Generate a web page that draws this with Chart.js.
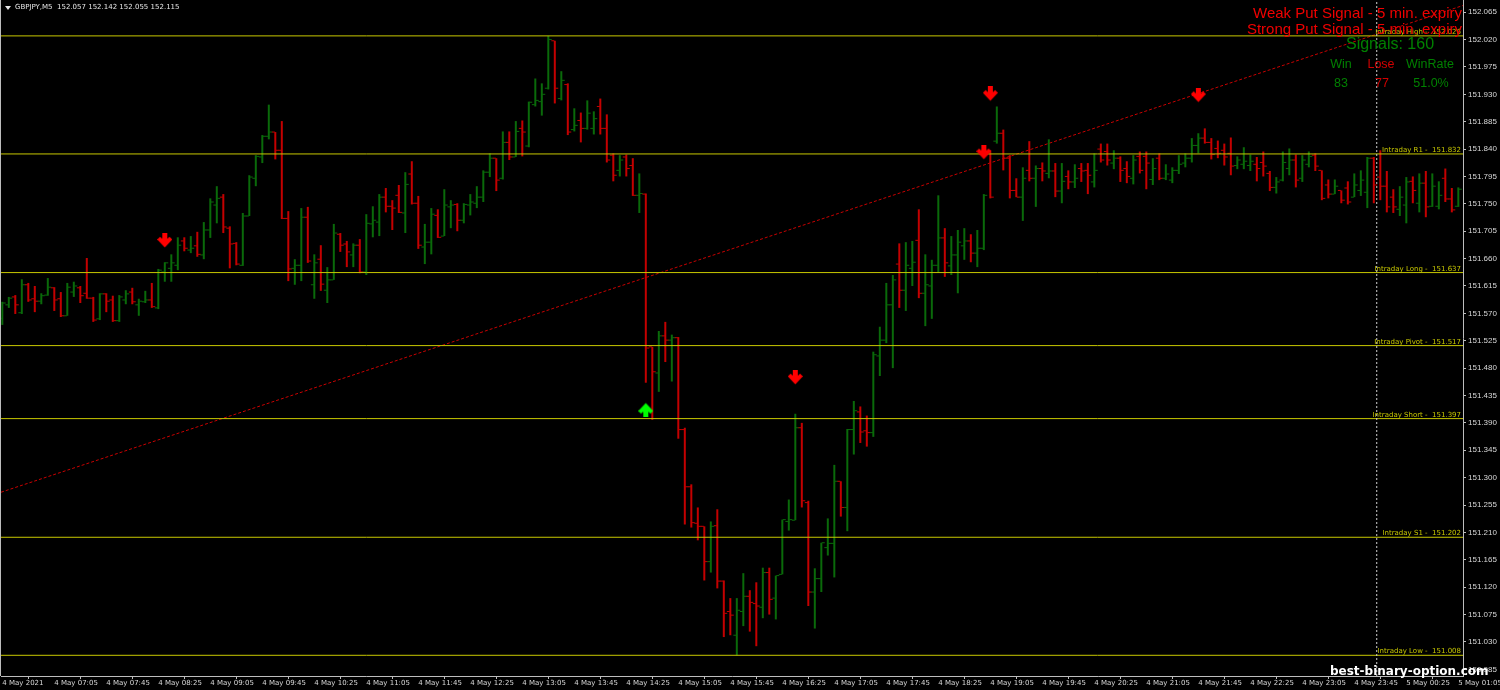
<!DOCTYPE html>
<html>
<head>
<meta charset="utf-8">
<script src="https://cdn.jsdelivr.net/npm/chart.js@4.4.0/dist/chart.umd.min.js"></script>
<style>
  html, body { margin: 0; padding: 0; background: #000; }
  #wrap { position: relative; width: 1500px; height: 690px; overflow: hidden; background: #000; }
  #chart { position: absolute; left: 0; top: 0; }
  .t { position: absolute; white-space: pre; line-height: 1; font-family: "Liberation Sans", Arial, sans-serif; }
  .c { transform: translateX(-50%); }
  #tri { position: absolute; left: 5px; top: 6px; width: 0; height: 0;
         border-left: 3px solid transparent; border-right: 3px solid transparent; border-top: 4px solid #e6e6e6; }
</style>
</head>
<body>
<div id="wrap">
  <canvas id="chart" width="1500" height="690"></canvas>
  <div id="tri"></div>
  <div class="t" style="left:15px; top:4px; font-size:7px; font-family:'DejaVu Sans'; color:#e6e6e6">GBPJPY,M5  152.057 152.142 152.055 152.115</div>

  <div class="t" style="right:38px; top:5px; font-size:15px; color:#f00000">Weak Put Signal - 5 min. expiry</div>
  <div class="t" style="right:38px; top:21px; font-size:15px; color:#f00000">Strong Put Signal - 5 min. expiry</div>
  <div class="t c" style="left:1390px; top:36px; font-size:16px; color:#008000">Signals: 160</div>
  <div class="t c" style="left:1341px; top:58px; font-size:12.5px; color:#008000">Win</div>
  <div class="t c" style="left:1381px; top:58px; font-size:12.5px; color:#d00000">Lose</div>
  <div class="t c" style="left:1430px; top:58px; font-size:12.5px; color:#008000">WinRate</div>
  <div class="t c" style="left:1341px; top:77px; font-size:12.5px; color:#008000">83</div>
  <div class="t c" style="left:1382px; top:77px; font-size:12.5px; color:#d00000">77</div>
  <div class="t c" style="left:1431px; top:77px; font-size:12.5px; color:#008000">51.0%</div>

  <div class="t" style="left:1330px; top:665px; font-size:12px; font-weight:bold; font-family:'DejaVu Sans'; color:#ffffff">best-binary-option.com</div>
</div>
<script>
// GBPJPY M5 bars, first bar = 4 May 06:25
const opens = [
  151.562, 151.584, 151.597, 151.571, 151.617, 151.594, 151.590, 151.600, 151.612, 151.594,
  151.566, 151.605, 151.612, 151.603, 151.595, 151.561, 151.602, 151.592, 151.558, 151.592,
  151.605, 151.584, 151.589, 151.592, 151.579, 151.638, 151.644, 151.649, 151.689, 151.674,
  151.681, 151.666, 151.707, 151.748, 151.761, 151.710, 151.685, 151.649, 151.730, 151.792,
  151.827, 151.861, 151.868, 151.838, 151.726, 151.644, 151.649, 151.728, 151.617, 151.659,
  151.608, 151.625, 151.700, 151.684, 151.666, 151.682, 151.638, 151.717, 151.720, 151.761,
  151.746, 151.764, 151.735, 151.799, 151.751, 151.679, 151.687, 151.731, 151.697, 151.745,
  151.749, 151.723, 151.748, 151.751, 151.761, 151.802, 151.825, 151.792, 151.851, 151.827,
  151.874, 151.845, 151.913, 151.918, 151.940, 152.018, 151.923, 151.946, 151.872, 151.887,
  151.874, 151.874, 151.910, 151.874, 151.830, 151.805, 151.827, 151.813, 151.764, 151.766,
  151.515, 151.472, 151.533, 151.526, 151.530, 151.379, 151.285, 151.225, 151.220, 151.162,
  151.221, 151.130, 151.080, 151.041, 151.080, 151.105, 151.093, 151.087, 151.144, 151.102,
  151.141, 151.228, 151.230, 151.382, 151.259, 151.112, 151.134, 151.185, 151.192, 151.294,
  151.251, 151.379, 151.408, 151.377, 151.374, 151.500, 151.526, 151.584, 151.651, 151.608,
  151.644, 151.690, 151.603, 151.615, 151.649, 151.694, 151.648, 151.666, 151.681, 151.689,
  151.669, 151.677, 151.835, 151.853, 151.866, 151.825, 151.772, 151.761, 151.805, 151.792,
  151.808, 151.800, 151.804, 151.771, 151.795, 151.786, 151.808, 151.805, 151.786, 151.840,
  151.836, 151.817, 151.825, 151.808, 151.792, 151.828, 151.828, 151.790, 151.825, 151.792,
  151.789, 151.805, 151.817, 151.825, 151.846, 151.858, 151.851, 151.841, 151.838, 151.833,
  151.813, 151.815, 151.813, 151.815, 151.818, 151.800, 151.777, 151.789, 151.808, 151.822,
  151.792, 151.815, 151.830, 151.805, 151.781, 151.766, 151.772, 151.776, 151.761, 151.772,
  151.769, 151.825, 151.794, 151.779, 151.761, 151.741, 151.748, 151.787, 151.751, 151.784,
  151.746, 151.746, 151.792, 151.758, 151.746
];
const highs = [
  151.589, 151.597, 151.600, 151.626, 151.620, 151.615, 151.603, 151.628, 151.613, 151.605,
  151.620, 151.622, 151.615, 151.661, 151.597, 151.603, 151.603, 151.599, 151.600, 151.608,
  151.612, 151.594, 151.607, 151.620, 151.643, 151.654, 151.667, 151.695, 151.695, 151.697,
  151.704, 151.720, 151.759, 151.779, 151.766, 151.713, 151.687, 151.735, 151.797, 151.830,
  151.863, 151.913, 151.868, 151.886, 151.738, 151.659, 151.743, 151.745, 151.667, 151.682,
  151.646, 151.717, 151.702, 151.689, 151.685, 151.692, 151.733, 151.746, 151.766, 151.776,
  151.756, 151.781, 151.802, 151.820, 151.763, 151.717, 151.743, 151.741, 151.774, 151.756,
  151.751, 151.751, 151.766, 151.779, 151.805, 151.833, 151.825, 151.869, 151.869, 151.886,
  151.887, 151.918, 151.956, 151.948, 152.026, 152.018, 151.968, 151.948, 151.907, 151.900,
  151.920, 151.902, 151.923, 151.897, 151.833, 151.830, 151.831, 151.825, 151.800, 151.767,
  151.515, 151.541, 151.556, 151.535, 151.531, 151.382, 151.289, 151.251, 151.220, 151.228,
  151.248, 151.131, 151.102, 151.102, 151.143, 151.115, 151.128, 151.152, 151.152, 151.139,
  151.231, 151.264, 151.405, 151.390, 151.262, 151.151, 151.193, 151.233, 151.321, 151.294,
  151.380, 151.426, 151.417, 151.402, 151.507, 151.548, 151.620, 151.633, 151.685, 151.687,
  151.689, 151.741, 151.667, 151.658, 151.764, 151.710, 151.697, 151.707, 151.710, 151.700,
  151.707, 151.766, 151.838, 151.910, 151.872, 151.830, 151.792, 151.810, 151.853, 151.813,
  151.818, 151.856, 151.817, 151.817, 151.805, 151.815, 151.817, 151.817, 151.833, 151.849,
  151.849, 151.838, 151.828, 151.820, 151.830, 151.836, 151.836, 151.825, 151.833, 151.815,
  151.810, 151.830, 151.833, 151.858, 151.866, 151.874, 151.858, 151.854, 151.849, 151.859,
  151.828, 151.843, 151.831, 151.827, 151.836, 151.804, 151.794, 151.836, 151.841, 151.831,
  151.830, 151.836, 151.833, 151.805, 151.790, 151.790, 151.772, 151.787, 151.800, 151.805,
  151.827, 151.827, 151.838, 151.804, 151.774, 151.779, 151.794, 151.795, 151.800, 151.804,
  151.800, 151.787, 151.808, 151.776, 151.777
];
const lows = [
  151.551, 151.579, 151.569, 151.569, 151.589, 151.572, 151.585, 151.599, 151.574, 151.564,
  151.566, 151.597, 151.587, 151.594, 151.556, 151.559, 151.572, 151.556, 151.556, 151.585,
  151.585, 151.566, 151.587, 151.579, 151.577, 151.622, 151.622, 151.641, 151.672, 151.669,
  151.663, 151.659, 151.694, 151.718, 151.702, 151.644, 151.649, 151.648, 151.730, 151.779,
  151.817, 151.856, 151.823, 151.725, 151.623, 151.617, 151.623, 151.653, 151.594, 151.607,
  151.587, 151.625, 151.671, 151.646, 151.646, 151.636, 151.633, 151.695, 151.697, 151.736,
  151.707, 151.735, 151.702, 151.749, 151.676, 151.651, 151.667, 151.694, 151.697, 151.710,
  151.705, 151.718, 151.731, 151.743, 151.753, 151.794, 151.771, 151.790, 151.822, 151.827,
  151.828, 151.843, 151.910, 151.895, 151.938, 151.915, 151.920, 151.863, 151.869, 151.851,
  151.872, 151.864, 151.864, 151.818, 151.787, 151.795, 151.795, 151.763, 151.735, 151.456,
  151.395, 151.441, 151.490, 151.458, 151.364, 151.223, 151.218, 151.197, 151.131, 151.144,
  151.118, 151.038, 151.041, 151.008, 151.056, 151.047, 151.023, 151.069, 151.075, 151.067,
  151.141, 151.213, 151.230, 151.251, 151.089, 151.052, 151.112, 151.172, 151.136, 151.236,
  151.212, 151.338, 151.357, 151.351, 151.367, 151.467, 151.521, 151.480, 151.579, 151.574,
  151.615, 151.595, 151.549, 151.561, 151.638, 151.630, 151.633, 151.603, 151.658, 151.654,
  151.646, 151.674, 151.759, 151.849, 151.805, 151.759, 151.761, 151.722, 151.787, 151.745,
  151.787, 151.792, 151.761, 151.751, 151.774, 151.776, 151.786, 151.766, 151.777, 151.818,
  151.813, 151.807, 151.786, 151.784, 151.782, 151.800, 151.774, 151.781, 151.789, 151.789,
  151.784, 151.799, 151.810, 151.818, 151.833, 151.849, 151.823, 151.825, 151.813, 151.797,
  151.807, 151.807, 151.804, 151.787, 151.795, 151.771, 151.767, 151.787, 151.797, 151.777,
  151.786, 151.810, 151.804, 151.756, 151.759, 151.766, 151.751, 151.749, 151.761, 151.763,
  151.743, 151.751, 151.756, 151.736, 151.735, 151.730, 151.718, 151.751, 151.736, 151.728,
  151.745, 151.741, 151.753, 151.736, 151.745
];
const closes = [
  151.587, 151.595, 151.584, 151.617, 151.592, 151.590, 151.599, 151.613, 151.592, 151.566,
  151.613, 151.615, 151.599, 151.595, 151.559, 151.602, 151.590, 151.558, 151.597, 151.602,
  151.589, 151.590, 151.592, 151.581, 151.641, 151.653, 151.653, 151.682, 151.677, 151.677,
  151.667, 151.707, 151.753, 151.759, 151.712, 151.684, 151.651, 151.730, 151.794, 151.828,
  151.861, 151.868, 151.838, 151.726, 151.643, 151.649, 151.728, 151.656, 151.653, 151.618,
  151.625, 151.702, 151.682, 151.671, 151.682, 151.638, 151.718, 151.723, 151.761, 151.746,
  151.743, 151.736, 151.782, 151.751, 151.682, 151.687, 151.733, 151.695, 151.748, 151.748,
  151.723, 151.749, 151.753, 151.761, 151.802, 151.825, 151.789, 151.851, 151.827, 151.869,
  151.868, 151.917, 151.920, 151.930, 152.020, 151.940, 151.953, 151.868, 151.879, 151.874,
  151.899, 151.890, 151.874, 151.822, 151.797, 151.822, 151.808, 151.764, 151.767, 151.513,
  151.474, 151.533, 151.526, 151.530, 151.379, 151.285, 151.226, 151.220, 151.162, 151.220,
  151.130, 151.077, 151.074, 151.082, 151.105, 151.095, 151.089, 151.144, 151.100, 151.139,
  151.231, 151.231, 151.382, 151.262, 151.112, 151.134, 151.193, 151.192, 151.294, 151.251,
  151.379, 151.410, 151.375, 151.374, 151.502, 151.526, 151.584, 151.625, 151.608, 151.649,
  151.654, 151.603, 151.617, 151.649, 151.694, 151.653, 151.666, 151.687, 151.689, 151.669,
  151.677, 151.764, 151.761, 151.866, 151.825, 151.772, 151.761, 151.792, 151.792, 151.808,
  151.804, 151.804, 151.771, 151.787, 151.786, 151.792, 151.804, 151.797, 151.805, 151.822,
  151.822, 151.825, 151.805, 151.795, 151.822, 151.805, 151.817, 151.808, 151.792, 151.799,
  151.805, 151.815, 151.825, 151.846, 151.858, 151.851, 151.831, 151.833, 151.827, 151.812,
  151.822, 151.820, 151.820, 151.808, 151.812, 151.777, 151.786, 151.818, 151.822, 151.789,
  151.822, 151.828, 151.812, 151.759, 151.766, 151.779, 151.756, 151.753, 151.781, 151.789,
  151.825, 151.781, 151.779, 151.745, 151.745, 151.761, 151.786, 151.772, 151.784, 151.745,
  151.779, 151.764, 151.758, 151.740, 151.774
];

// time axis labels, one every 8 bars (40 min)
const timeLabels = [
  "4 May 2021", "4 May 07:05", "4 May 07:45", "4 May 08:25", "4 May 09:05", "4 May 09:45",
  "4 May 10:25", "4 May 11:05", "4 May 11:45", "4 May 12:25", "4 May 13:05", "4 May 13:45",
  "4 May 14:25", "4 May 15:05", "4 May 15:45", "4 May 16:25", "4 May 17:05", "4 May 17:45",
  "4 May 18:25", "4 May 19:05", "4 May 19:45", "4 May 20:25", "4 May 21:05", "4 May 21:45",
  "4 May 22:25", "4 May 23:05", "4 May 23:45", "5 May 00:25", "5 May 01:05"
];
const barsPerLabel = 8;

// price axis labels
const priceTicks = [
  152.065, 152.020, 151.975, 151.930, 151.885, 151.840, 151.795, 151.750, 151.705,
  151.660, 151.615, 151.570, 151.525, 151.480, 151.435, 151.390, 151.345, 151.300,
  151.255, 151.210, 151.165, 151.120, 151.075, 151.030, 150.985
];

// intraday levels
const levelNames = ["Intraday High", "Intraday R1", "Intraday Long", "Intraday Pivot",
                    "Intraday Short", "Intraday S1", "Intraday Low"];
const levelValues = [152.026, 151.832, 151.637, 151.517, 151.397, 151.202, 151.008];

// signal arrows (bar index, price)
const putIdx = [25, 122, 151, 152, 184];
const putPrice = [151.689, 151.464, 151.834, 151.930, 151.928];
const callIdx = [99];
const callPrice = [151.412];

// dotted trend line anchors and the vertical marker
const trendIdx = [-0.2, 224.72];
const trendPrice = [151.276, 152.076];
const markerIdx = 211.45;

// visible window
const xMin = -0.2, xMax = 224.72;
const yMin = 150.974, yMax = 152.085;

const bullColor = '#0a6a0a';
const bearColor = '#c40000';
const levelColor = '#c8c800';

const idx = opens.map((o, i) => i);
const barColors = idx.map(i => closes[i] >= opens[i] ? bullColor : bearColor);

function makeArrow(color, up) {
  const c = document.createElement('canvas');
  c.width = 15; c.height = 16;
  const g = c.getContext('2d');
  if (up) { g.translate(0, 16); g.scale(1, -1); }
  g.fillStyle = color;
  g.fillRect(5, 0, 5, 11);
  g.beginPath();
  g.moveTo(0, 6.5); g.lineTo(2.8, 3.8); g.lineTo(7.5, 8.5); g.lineTo(12.2, 3.8);
  g.lineTo(15, 6.5); g.lineTo(7.5, 14.5); g.closePath();
  g.fill();
  return c;
}

const datasets = [];

// arrows on top
datasets.push({
  type: 'scatter', order: 0, clip: false,
  data: putIdx.map((x, k) => ({x: x, y: putPrice[k]})),
  pointStyle: makeArrow('#ff0000', false), pointRadius: 8
});
datasets.push({
  type: 'scatter', order: 0, clip: false,
  data: callIdx.map((x, k) => ({x: x, y: callPrice[k]})),
  pointStyle: makeArrow('#00ff00', true), pointRadius: 8
});

// vertical dotted marker
datasets.push({
  type: 'line', order: 1,
  data: [{x: markerIdx, y: yMin}, {x: markerIdx, y: yMax}],
  borderColor: '#d0d0d0', borderWidth: 1, borderDash: [2, 2], pointRadius: 0
});

// level lines
levelValues.forEach(v => {
  datasets.push({
    type: 'line', order: 2,
    data: [{x: xMin, y: v}, {x: xMax, y: v}],
    borderColor: levelColor, borderWidth: 1, pointRadius: 0
  });
});

// trend line
datasets.push({
  type: 'line', order: 3,
  data: trendIdx.map((x, k) => ({x: x, y: trendPrice[k]})),
  borderColor: '#c80000', borderWidth: 1, borderDash: [3, 2], pointRadius: 0
});

// open / close ticks
datasets.push({
  type: 'scatter', order: 4,
  data: idx.map(i => ({x: i - 0.3, y: opens[i]})),
  pointStyle: 'line', pointRadius: 1.5, pointBorderWidth: 1, pointBorderColor: barColors
});
datasets.push({
  type: 'scatter', order: 4,
  data: idx.map(i => ({x: i + 0.3, y: closes[i]})),
  pointStyle: 'line', pointRadius: 1.5, pointBorderWidth: 1, pointBorderColor: barColors
});

// high-low bars
datasets.push({
  type: 'bar', order: 5,
  data: idx.map(i => ({x: i, y: [lows[i], highs[i]]})),
  backgroundColor: barColors, borderWidth: 0, barThickness: 2, inflateAmount: 0
});

const overlay = {
  id: 'overlay',
  afterDatasetsDraw(chart) {
    const {ctx, chartArea, scales} = chart;
    ctx.save();
    ctx.strokeStyle = '#bdbdbd';
    ctx.lineWidth = 1;
    ctx.beginPath();
    ctx.moveTo(chartArea.left - 0.5, chartArea.top);
    ctx.lineTo(chartArea.left - 0.5, chartArea.bottom);
    ctx.stroke();

    ctx.font = '7px "DejaVu Sans"';
    ctx.fillStyle = levelColor;
    ctx.textAlign = 'right';
    ctx.textBaseline = 'alphabetic';
    levelNames.forEach((n, k) => {
      const y = scales.y.getPixelForValue(levelValues[k]);
      ctx.fillText(n + ' -  ' + levelValues[k].toFixed(3), chartArea.right - 2, y - 2);
    });
    ctx.restore();
  }
};

new Chart(document.getElementById('chart'), {
  type: 'scatter',
  data: { datasets: datasets },
  plugins: [overlay],
  options: {
    responsive: false,
    animation: false,
    events: [],
    layout: { autoPadding: false, padding: { left: 1, top: 0, right: 0, bottom: 0 } },
    plugins: { legend: { display: false }, tooltip: { enabled: false } },
    scales: {
      x: {
        type: 'linear', position: 'bottom', min: xMin, max: xMax, offset: false,
        afterBuildTicks: s => { s.ticks = timeLabels.map((t, k) => ({value: k * barsPerLabel})); },
        afterFit: s => { s.height = 14; s.paddingLeft = 0; s.paddingRight = 0; },
        ticks: {
          autoSkip: false, maxRotation: 0, minRotation: 0, align: 'start', padding: 0,
          color: '#d8d8d8', font: { family: 'DejaVu Sans', size: 7 },
          callback: (v, k) => timeLabels[k]
        },
        grid: { drawOnChartArea: false, tickLength: 3, color: '#bdbdbd' },
        border: { color: '#bdbdbd' }
      },
      y: {
        type: 'linear', position: 'right', min: yMin, max: yMax,
        afterBuildTicks: s => { s.ticks = priceTicks.map(v => ({value: v})); },
        afterFit: s => { s.width = 37; s.paddingTop = 0; s.paddingBottom = 0; },
        ticks: {
          autoSkip: false, padding: 2,
          color: '#d8d8d8', font: { family: 'Liberation Sans', size: 8 },
          callback: v => Number(v).toFixed(3)
        },
        grid: { drawOnChartArea: false, tickLength: 3, color: '#bdbdbd' },
        border: { color: '#bdbdbd' }
      }
    }
  }
});
</script>
</body>
</html>
